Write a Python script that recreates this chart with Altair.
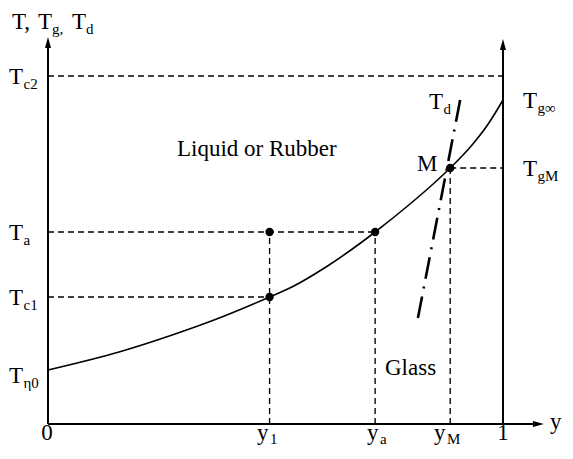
import altair as alt
import pandas as pd

# ---- data (y in [0,1], T in arbitrary picture units) ----
# glass transition curve T_g(y)
curve_y = [0.0, 0.156, 0.273, 0.382, 0.487, 0.536, 0.611, 0.684, 0.719, 0.793, 0.844, 0.884, 0.932, 0.969, 1.0]
curve_T = [54, 72, 89, 107, 127, 137, 157, 180, 192, 219, 239, 256, 279, 301, 324]

# T_d line (dash-dot)
td_y = [0.813, 0.908]
td_T = [106, 329]

# key values
Y1, YA, YM = 0.487, 0.719, 0.884
TC2, TA, TC1, TGM = 348, 192, 127, 256
T_TOP, T_RTOP, Y_RIGHT = 387, 385, 1.090

# marked points
pt_y = [Y1, Y1, YA, YM]
pt_T = [TA, TC1, TA, TGM]

# dashed guide segments (x, T) -> (x2, T2)
dash_x = [0.0, 0.0, 0.0, YM, Y1, YA, YM]
dash_T = [TC2, TA, TC1, TGM, 0, 0, 0]
dash_x2 = [1.0, YA, Y1, 1.0, Y1, YA, YM]
dash_T2 = [TC2, TA, TC1, TGM, TA, TA, TGM]

# axes (solid)
ax_x = [0.0, 1.0, 0.0]
ax_T = [0, 0, 0]
ax_x2 = [0.0, 1.0, Y_RIGHT - 0.015]
ax_T2 = [T_TOP - 6, T_RTOP - 6, 0]

# main labels
lab_text = ["T,", "T", "T", "T", "T", "T", "T", "T", "T", "T", "M",
            "Liquid or Rubber", "Glass", "y", "y", "y", "y"]
lab_x = [-0.0791, -0.0220, 0.0527, -0.0857, -0.0857, -0.0857, -0.0857, 0.8374, 1.0440, 1.0440, 0.8110,
         0.2835, 0.7407, 0.4593, 0.7011, 0.8484, 1.1033]
lab_T = [395, 395, 395, 340, 184, 119, 41, 315, 316, 248, 253,
         268, 49, -16, -16, -16, -5]

# subscripts
sub_text = ["g,", "d", "c2", "a", "c1", "\u03b70", "d", "g\u221e", "gM", "1", "a", "M"]
sub_x = [0.0088, 0.0835, -0.0538, -0.0538, -0.0538, -0.0538, 0.8692, 1.0758, 1.0758, 0.4879, 0.7297, 0.8769]
sub_T = [390, 390, 335, 179, 114, 36, 310, 311, 243, -20, -20, -20]

# centred tick labels
tick_text = ["0", "1"]
tick_x = [-0.002, 1.0]
tick_T = [-16, -16]

# ---- chart ----
XS = alt.Scale(domain=[-0.0879, 1.1341], nice=False, zero=False)
YS = alt.Scale(domain=[-25, 416], nice=False, zero=False)
FONT = "Liberation Serif"


def X(f):
    return alt.X(f, type="quantitative", scale=XS, axis=None)


def Y(f):
    return alt.Y(f, type="quantitative", scale=YS, axis=None)


curve_df = pd.DataFrame({"x": curve_y, "T": curve_T})
td_df = pd.DataFrame({"x": td_y, "T": td_T})
pt_df = pd.DataFrame({"x": pt_y, "T": pt_T})
dash_df = pd.DataFrame({"x": dash_x, "T": dash_T, "x2": dash_x2, "T2": dash_T2})
ax_df = pd.DataFrame({"x": ax_x, "T": ax_T, "x2": ax_x2, "T2": ax_T2})
lab_df = pd.DataFrame({"x": lab_x, "T": lab_T, "t": lab_text})
sub_df = pd.DataFrame({"x": sub_x, "T": sub_T, "t": sub_text})
tick_df = pd.DataFrame({"x": tick_x, "T": tick_T, "t": tick_text})
up_df = pd.DataFrame({"x": [0.0, 1.0], "T": [T_TOP, T_RTOP]})
right_df = pd.DataFrame({"x": [Y_RIGHT], "T": [0]})

dashed = alt.Chart(dash_df).mark_rule(color="black", strokeWidth=1.35, strokeDash=[6, 4]).encode(
    x=X("x"), y=Y("T"), x2=alt.X2("x2"), y2=alt.Y2("T2"))

axes = alt.Chart(ax_df).mark_rule(color="black", strokeWidth=2).encode(
    x=X("x"), y=Y("T"), x2=alt.X2("x2"), y2=alt.Y2("T2"))

up_arrows = alt.Chart(up_df).mark_point(
    shape="M-0.55,1L0,-1L0.55,1Z", filled=True, size=121, color="black",
    opacity=1, strokeWidth=0, yOffset=5.5).encode(x=X("x"), y=Y("T"))

right_arrow = alt.Chart(right_df).mark_point(
    shape="M-1,-0.55L1,0L-1,0.55Z", filled=True, size=121, color="black",
    opacity=1, strokeWidth=0, xOffset=-5.5).encode(x=X("x"), y=Y("T"))

curve = alt.Chart(curve_df).mark_line(color="black", strokeWidth=1.6, interpolate="monotone").encode(
    x=X("x"), y=Y("T"))

td_line = alt.Chart(td_df).mark_line(color="black", strokeWidth=2.6, strokeDash=[22, 8, 2, 8]).encode(
    x=X("x"), y=Y("T"))

points = alt.Chart(pt_df).mark_circle(color="black", size=70, opacity=1).encode(
    x=X("x"), y=Y("T"))

labels = alt.Chart(lab_df).mark_text(
    align="left", baseline="alphabetic", font=FONT, fontSize=23, color="black").encode(
    x=X("x"), y=Y("T"), text="t:N")

subs = alt.Chart(sub_df).mark_text(
    align="left", baseline="alphabetic", font=FONT, fontSize=15, color="black").encode(
    x=X("x"), y=Y("T"), text="t:N")

ticks = alt.Chart(tick_df).mark_text(
    align="center", baseline="alphabetic", font=FONT, fontSize=23, color="black").encode(
    x=X("x"), y=Y("T"), text="t:N")

chart = alt.layer(
    dashed, axes, up_arrows, right_arrow, curve, td_line, points, labels, subs, ticks
).properties(
    width=556, height=441, padding=0,
    autosize=alt.AutoSizeParams(type="none"),
).configure_view(stroke=None)

chart.save("out.html", embed_options={"renderer": "svg", "actions": False})
